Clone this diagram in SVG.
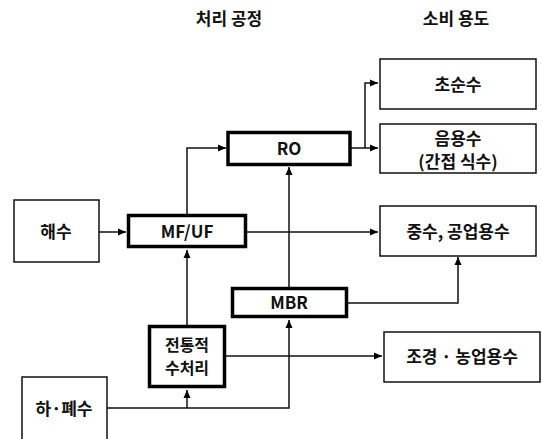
<svg xmlns="http://www.w3.org/2000/svg" width="542" height="439" viewBox="0 0 542 439">
<defs>
<marker id="arr" markerWidth="8" markerHeight="8" refX="8" refY="4" orient="auto" markerUnits="userSpaceOnUse">
<path d="M0,0.5 L8,4 L0,7.5 Z" fill="#000"/>
</marker>
<style>
.t{font-family:"Noto Sans CJK KR","Noto Sans",sans-serif;font-weight:bold;font-size:17px;text-anchor:middle;fill:#111}
.s{font-size:16px}
.thin{fill:#fff;stroke:#111;stroke-width:1.5}
.thick{fill:#fff;stroke:#000;stroke-width:3.5}
.c{fill:none;stroke:#111;stroke-width:1.5}
</style>
</defs>
<rect width="542" height="439" fill="#fff"/>
<text class="t" x="229" y="25">처리 공정</text>
<text class="t" x="456" y="25">소비 용도</text>
<g id="connectors">
<path class="c" d="M187,214 V148 H226" marker-end="url(#arr)"/>
<path class="c" d="M350,148 H378" marker-end="url(#arr)"/>
<path class="c" d="M365,148 V83 H378" marker-end="url(#arr)"/>
<path class="c" d="M99,232 H126" marker-end="url(#arr)"/>
<path class="c" d="M247,232 H378" marker-end="url(#arr)"/>
<path class="c" d="M289,287 V167" marker-end="url(#arr)"/>
<path class="c" d="M187,325 V250" marker-end="url(#arr)"/>
<path class="c" d="M348,303 H458 V257" marker-end="url(#arr)"/>
<path class="c" d="M226,356 H382" marker-end="url(#arr)"/>
<path class="c" d="M107,408 H289 V320" marker-end="url(#arr)"/>
<path class="c" d="M187,408 V390" marker-end="url(#arr)"/>
</g>
<g id="chosunsu"><rect class="thin" x="380" y="59" width="156" height="50"/><text class="t" x="458" y="91">초순수</text></g>
<g id="eumyongsu"><rect class="thin" x="380" y="124" width="156" height="49"/><text class="t" x="458" y="145">음용수</text><text class="t" x="458" y="168">(간접 식수)</text></g>
<g id="ro"><rect class="thick" x="228" y="132.5" width="122" height="32"/><text class="t" x="289" y="155">RO</text></g>
<g id="haesu"><rect class="thin" x="14" y="200" width="85" height="62"/><text class="t" x="56" y="238">해수</text></g>
<g id="mfuf"><rect class="thick" x="128.5" y="215.5" width="117" height="31"/><text class="t" x="187" y="238">MF/UF</text></g>
<g id="jungsu"><rect class="thin" x="380" y="206" width="156" height="50"/><text class="t" x="458" y="238">중수, 공업용수</text></g>
<g id="mbr"><rect class="thick" x="232.5" y="288.5" width="114" height="28"/><text class="t" x="289" y="309">MBR</text></g>
<g id="jeontong"><rect class="thick" x="149.5" y="326.5" width="75" height="60"/><text class="t s" x="187" y="351">전통적</text><text class="t s" x="187" y="374">수처리</text></g>
<g id="jogyeong"><rect class="thin" x="384" y="332" width="156" height="50"/><text class="t" x="462" y="363">조경 · 농업용수</text></g>
<g id="hapyesu"><rect class="thin" x="22" y="377" width="85" height="70"/><text class="t" x="64" y="415">하·폐수</text></g>
</svg>
